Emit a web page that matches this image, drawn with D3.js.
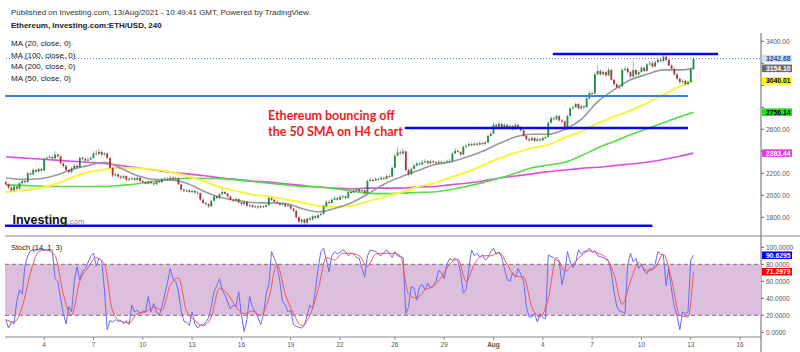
<!DOCTYPE html>
<html>
<head>
<meta charset="utf-8">
<script src="https://cdn.jsdelivr.net/npm/d3@7"></script>
<style>
  body { margin: 0; background: #fff; }
  svg { display: block; font-family: "Liberation Sans", Arial, sans-serif; }
</style>
</head>
<body>
<svg id="chart" width="800" height="352"></svg>
<script>
// ETH/USD 4h candles, 1 Jul -> 13 Aug 2021 (open = previous close)
const firstOpen = 2120;
const closes = [2100,2070,2045,2080,2060,2110,2130,2120,2200,2190,2230,2215,2240,2225,2330,2340,2350,2335,2370,2355,
  2290,2265,2230,2210,2245,2270,2255,2340,2330,2315,2325,2340,2380,2375,2395,2370,2380,2340,2250,2180,
  2190,2170,2160,2175,2140,2150,2155,2140,2160,2130,2120,2105,2125,2110,2100,2130,2120,2145,2150,2140,
  2160,2145,2155,2100,2050,2040,2045,2030,2040,2025,2020,1960,1930,1920,1900,1950,1990,1975,2010,2030,
  2015,1990,1960,1950,1965,1935,1920,1940,1905,1910,1895,1900,1890,1900,1895,1910,1975,1960,1940,1930,
  1915,1925,1900,1910,1880,1860,1800,1760,1780,1750,1790,1780,1810,1795,1820,1830,1900,1940,1930,1960,
  1975,1960,1985,1990,1975,2030,2025,2040,2055,2035,2045,2020,2130,2140,2135,2150,2145,2160,2150,2175,
  2170,2250,2360,2390,2380,2400,2230,2190,2240,2270,2290,2280,2300,2310,2290,2310,2300,2290,2305,2295,
  2300,2310,2310,2380,2405,2395,2370,2440,2450,2465,2455,2470,2460,2475,2465,2480,2540,2560,2640,2625,
  2650,2620,2640,2610,2630,2600,2640,2620,2590,2540,2510,2500,2520,2495,2510,2500,2520,2530,2660,2700,
  2690,2720,2680,2670,2600,2720,2790,2800,2830,2790,2810,2800,2880,2930,2925,3100,3130,3100,3120,3090,
  3140,3050,3010,2980,2990,3140,3150,3120,3080,3140,3100,3120,3160,3130,3190,3200,3170,3210,3230,3220,
  3260,3230,3180,3150,3100,3060,3030,3040,3010,3030,3150,3242.68];
const highs = [2135,2110,2080,2095,2090,2120,2145,2140,2215,2210,2245,2240,2250,2250,2345,2355,2370,2360,2400,2380,
  2360,2300,2275,2240,2260,2285,2280,2350,2355,2340,2340,2355,2400,2410,2420,2405,2395,2390,2345,2260,
  2205,2200,2185,2190,2180,2165,2170,2165,2175,2165,2140,2130,2140,2135,2120,2140,2140,2160,2170,2165,
  2180,2170,2170,2160,2105,2065,2060,2055,2055,2050,2040,2025,1970,1940,1930,1960,2000,2000,2025,2060,
  2040,2020,1995,1970,1980,1975,1945,1955,1945,1925,1920,1915,1910,1915,1910,1925,1990,1985,1965,1950,
  1940,1940,1930,1925,1915,1890,1865,1810,1790,1790,1800,1805,1825,1820,1835,1850,1915,1955,1960,1975,
  1995,1985,2000,2005,2000,2045,2050,2055,2075,2065,2060,2050,2145,2160,2155,2165,2160,2175,2170,2190,
  2190,2265,2375,2440,2410,2430,2405,2240,2255,2285,2305,2300,2320,2330,2320,2325,2320,2315,2320,2315,
  2315,2325,2330,2395,2430,2420,2400,2455,2470,2480,2480,2485,2480,2490,2485,2495,2555,2580,2660,2655,
  2670,2660,2655,2650,2645,2640,2655,2650,2630,2600,2550,2525,2535,2530,2525,2520,2535,2545,2675,2720,
  2715,2735,2730,2695,2680,2735,2805,2820,2845,2840,2825,2820,2895,2950,2945,3120,3180,3145,3140,3130,
  3160,3150,3060,3020,3005,3155,3170,3165,3130,3220,3150,3135,3175,3170,3205,3220,3215,3225,3250,3245,
  3280,3275,3245,3195,3160,3110,3070,3055,3050,3045,3165,3255];
const lows = [2085,2055,2030,2035,2050,2055,2100,2105,2115,2180,2185,2205,2210,2215,2220,2320,2335,2325,2330,2340,
  2280,2250,2215,2195,2200,2240,2240,2250,2320,2300,2305,2320,2335,2365,2370,2355,2360,2330,2240,2165,
  2170,2160,2145,2150,2125,2130,2140,2130,2135,2120,2105,2095,2100,2100,2085,2095,2110,2115,2135,2130,
  2135,2135,2140,2090,2040,2030,2030,2020,2020,2015,2010,1950,1920,1905,1885,1895,1945,1965,1970,2005,
  2005,1980,1950,1935,1940,1925,1905,1910,1890,1895,1885,1885,1875,1880,1885,1890,1905,1950,1930,1920,
  1905,1905,1890,1895,1870,1845,1790,1745,1740,1720,1740,1765,1770,1785,1790,1815,1825,1895,1920,1925,
  1955,1950,1955,1975,1965,1970,2015,2020,2035,2025,2030,2005,2015,2125,2125,2130,2135,2140,2140,2145,
  2160,2165,2245,2355,2370,2370,2215,2170,2185,2235,2260,2270,2275,2295,2280,2285,2290,2280,2285,2285,
  2285,2295,2300,2305,2375,2385,2360,2365,2435,2445,2445,2450,2450,2455,2455,2460,2475,2535,2555,2615,
  2620,2610,2610,2600,2605,2590,2595,2610,2580,2530,2500,2485,2490,2485,2485,2490,2495,2510,2525,2650,
  2680,2685,2670,2655,2585,2595,2715,2780,2795,2780,2780,2785,2795,2870,2910,2920,3090,3085,3090,3075,
  3085,3040,2995,2965,2960,2985,3130,3105,3065,3075,3085,3090,3110,3120,3125,3180,3160,3165,3200,3205,
  3210,3220,3170,3135,3085,3045,3010,3015,2995,3000,3025,3140];

// moving averages, read once a day (every 6th bar) plus the last bar
const maBars = d3.range(0, 247, 6).concat([251]);
const ma20 = [2157,2145,2150,2180,2235,2270,2300,2245,2180,2145,2140,2110,2040,1985,1955,1935,1930,1925,1880,1850,
  1880,1930,2010,2100,2165,2220,2275,2300,2345,2400,2470,2530,2555,2555,2600,2690,2850,2960,3050,3100,3140,3140,3154.10];
const ma50 = [2030,2045,2065,2100,2160,2210,2235,2250,2245,2235,2215,2175,2130,2075,2040,2005,1990,1965,1935,1905,
  1895,1905,1945,1985,2025,2075,2110,2160,2210,2270,2335,2385,2430,2460,2525,2580,2655,2715,2770,2840,2915,2990,3040.01];
const ma100 = [2095,2090,2085,2080,2080,2080,2080,2090,2105,2125,2145,2155,2155,2150,2140,2125,2110,2095,2080,2075,
  2060,2040,2020,2015,2020,2025,2030,2050,2080,2115,2155,2200,2250,2275,2300,2360,2430,2490,2550,2605,2660,2715,2756.14];
const ma200 = [2350,2340,2330,2320,2310,2300,2290,2270,2250,2230,2210,2195,2180,2160,2145,2130,2120,2105,2090,2075,
  2065,2060,2065,2065,2065,2075,2080,2095,2110,2130,2155,2175,2195,2215,2230,2245,2255,2270,2285,2300,2325,2355,2383.44];
const maNames = ["MA (20, close, 0)", "MA (100, close, 0)", "MA (200, close, 0)", "MA (50, close, 0)"];

// stochastic (14, 1, 3): %K each bar, %D every 3rd bar plus the last
const stochK = [15,5,12,10,36,50,45,78,90,96,97,97,97,98,97,97,96,95,63,60,
  40,22,10,30,24,60,77,62,72,75,82,90,93,78,87,84,50,3,14,12,
  15,13,14,10,14,9,32,24,26,22,25,24,42,24,34,24,20,30,45,58,
  75,63,60,48,25,13,12,8,24,10,5,9,8,12,17,30,48,55,63,50,
  44,35,28,32,30,48,20,1,15,42,30,24,18,9,20,45,56,95,87,79,
  60,36,32,24,26,9,7,6,5,8,20,32,28,50,75,95,99,85,71,90,
  95,92,94,97,95,90,93,92,88,87,75,65,90,97,96,95,92,90,94,97,
  93,88,95,90,89,88,22,30,54,52,38,54,56,50,58,52,55,60,73,70,
  63,80,87,85,87,84,70,46,50,75,97,90,93,88,91,85,88,95,99,92,
  94,88,75,62,60,70,65,75,68,60,30,18,18,22,12,22,17,16,91,89,
  88,85,83,56,70,95,83,76,82,97,92,95,96,99,94,96,90,89,88,86,
  84,70,48,30,25,24,22,80,93,83,87,75,80,72,69,75,74,80,95,92,
  91,55,75,50,30,20,3,24,22,24,85,90.6295];
const stochDBars = d3.range(0, 250, 3).concat([251]);
const stochD = [15,12,30,70,95,97,90,45,20,60,76,88,80,25,13,11,22,24,30,26,
  55,64,25,14,8,18,52,45,30,22,25,20,40,80,45,22,8,20,50,88,
  85,93,93,90,78,92,93,93,90,45,40,50,54,65,80,86,60,80,90,90,
  94,80,66,65,30,18,40,88,72,80,90,96,93,88,68,33,60,82,72,76,
  92,62,20,18,71.2979];

// trend lines drawn on the chart: price, first bar, last bar
const levelPrices = [3285, 2903, 2611, 1724];
const levelBars = [[200, 260], [0, 249], [146, 249], [0, 236]];

const priceTicks = [3400, 3200, 3000, 2800, 2600, 2400, 2200, 2000, 1800];
const stochTicks = [100, 80, 60, 40, 20, 0];
const dateBars = [14, 32, 50, 68, 86, 104, 122, 142, 160, 178, 196, 214, 232, 250, 268];
const dateLabels = ["4", "7", "10", "13", "16", "19", "22", "26", "29", "Aug", "4", "7", "10", "13", "16"];

const svg = d3.select("#chart");
const plotL = 5, plotR = 761;
const x = d3.scaleLinear().domain([0, 251]).range([5.8, 693.5]);
const y = d3.scaleLinear().domain([1800, 3400]).range([217.3, 41.3]);
const ys = d3.scaleLinear().domain([0, 100]).range([332.3, 247.3]);

const defs = svg.append("defs");
defs.append("clipPath").attr("id", "mainClip").append("rect")
  .attr("x", plotL).attr("y", 30).attr("width", plotR - plotL).attr("height", 205);
defs.append("clipPath").attr("id", "stochClip").append("rect")
  .attr("x", plotL).attr("y", 237).attr("width", plotR - plotL).attr("height", 100);

// header texts
svg.append("text").attr("x", 11).attr("y", 14.5).attr("font-size", 8).attr("fill", "#333")
  .text("Published on Investing.com, 13/Aug/2021 - 10:49:41 GMT, Powered by TradingView.");
svg.append("text").attr("x", 11).attr("y", 28).attr("font-size", 8).attr("font-weight", "bold").attr("fill", "#222")
  .text("Ethereum, Investing.com:ETH/USD, 240");

const main = svg.append("g").attr("clip-path", "url(#mainClip)");

// current price dotted line
main.append("line")
  .attr("x1", 0).attr("x2", plotR).attr("y1", y(closes[closes.length - 1])).attr("y2", y(closes[closes.length - 1]))
  .attr("stroke", "#4a6cf0").attr("stroke-dasharray", "1,2").attr("stroke-width", 1);

// moving averages
const maLine = d3.line().x(d => x(d[0])).y(d => y(d[1])).curve(d3.curveMonotoneX);
[[ma200, "#e04ee0", 1.6], [ma100, "#55dd44", 1.6], [ma50, "#f6f640", 2], [ma20, "#9a9a9a", 1.6]].forEach(([vals, col, w]) => {
  main.append("path").datum(d3.zip(maBars, vals)).attr("d", maLine)
    .attr("fill", "none").attr("stroke", col).attr("stroke-width", w);
});

// candles
const bars = closes.map((c, i) => ({ i, o: i ? closes[i - 1] : firstOpen, c, h: highs[i], l: lows[i] }));
const candle = main.append("g").selectAll("g").data(bars).join("g");
candle.append("line")
  .attr("x1", d => x(d.i)).attr("x2", d => x(d.i))
  .attr("y1", d => y(Math.max(d.h, d.o, d.c))).attr("y2", d => y(Math.min(d.l, d.o, d.c)))
  .attr("stroke", d => d.c >= d.o ? "#7fae8c" : "#c08a8a").attr("stroke-width", 0.8);
candle.append("rect")
  .attr("x", d => x(d.i) - 0.9).attr("width", 1.8)
  .attr("y", d => y(Math.max(d.o, d.c)))
  .attr("height", d => Math.max(1, y(Math.min(d.o, d.c)) - y(Math.max(d.o, d.c))))
  .attr("fill", d => d.c >= d.o ? "#1f8a45" : "#a8333a");

// horizontal levels
levelPrices.forEach((p, k) => {
  main.append("line")
    .attr("x1", x(levelBars[k][0]) - 1).attr("x2", x(levelBars[k][1]))
    .attr("y1", y(p)).attr("y2", y(p))
    .attr("stroke", k === 1 ? "#3a7ddc" : "#0a0ae8").attr("stroke-width", k === 1 ? 2 : 2.5);
});

// MA legend
maNames.forEach((t, k) => {
  svg.append("text").attr("x", 11).attr("y", 46 + k * 11.5).attr("font-size", 8).attr("fill", "#222").text(t);
});

// annotation
const note = svg.append("text").attr("font-family", "Lato, sans-serif").attr("font-size", 12.5)
  .attr("font-weight", "bold").attr("fill", "#ee1c24");
note.append("tspan").attr("x", 268).attr("y", 119.5).text("Ethereum bouncing off");
note.append("tspan").attr("x", 268).attr("y", 135.5).text("the 50 SMA on H4 chart");

// Investing logo
const logo = svg.append("text").attr("x", 12.5).attr("y", 223.5).attr("font-size", 12.5)
  .attr("font-weight", "bold").attr("fill", "#111");
logo.append("tspan").text("Invest\u0131ng");
logo.append("tspan").attr("font-size", 8).attr("font-weight", "normal").attr("fill", "#888").text(".com");
const iBox = logo.node().getExtentOfChar(6);
svg.append("circle").attr("cx", iBox.x + iBox.width / 2).attr("cy", 215.3).attr("r", 1.4).attr("fill", "#f39c12");

// pane separator and axes
svg.append("line").attr("x1", plotL).attr("x2", 800).attr("y1", 236).attr("y2", 236)
  .attr("stroke", "#8a8a8a").attr("stroke-width", 1.2);
svg.append("line").attr("x1", plotL).attr("x2", plotR).attr("y1", 337).attr("y2", 337)
  .attr("stroke", "#8a8a8a").attr("stroke-width", 1.2);
svg.append("line").attr("x1", plotR).attr("x2", plotR).attr("y1", 33).attr("y2", 352)
  .attr("stroke", "#666").attr("stroke-width", 1);

// stochastic pane
const st = svg.append("g").attr("clip-path", "url(#stochClip)");
st.append("rect").attr("x", plotL).attr("width", plotR - plotL)
  .attr("y", ys(80)).attr("height", ys(20) - ys(80)).attr("fill", "#dcbfdd");
[80, 20].forEach(v => {
  st.append("line").attr("x1", plotL).attr("x2", plotR).attr("y1", ys(v)).attr("y2", ys(v))
    .attr("stroke", "#7d6e7d").attr("stroke-dasharray", "4,3").attr("stroke-width", 1);
});
st.append("path").datum(stochK.map((v, i) => [i, v]))
  .attr("d", d3.line().x(d => x(d[0])).y(d => ys(d[1])))
  .attr("fill", "none").attr("stroke", "#6a6af5").attr("stroke-width", 1);
st.append("path").datum(d3.zip(stochDBars, stochD))
  .attr("d", d3.line().x(d => x(d[0])).y(d => ys(d[1])).curve(d3.curveMonotoneX))
  .attr("fill", "none").attr("stroke", "#f2555a").attr("stroke-width", 1);
svg.append("text").attr("x", 11).attr("y", 249.5).attr("font-size", 7.5).attr("fill", "#222").text("Stoch (14, 1, 3)");

// value tags on the axis
const tags = [
  [y(closes[closes.length - 1]), d3.format(".2f")(closes[closes.length - 1]), "#d3e1f5", "#2a4a8a"],
  [y(ma20[ma20.length - 1]), d3.format(".2f")(ma20[ma20.length - 1]), "#6b6b6b", "#fff"],
  [y(ma50[ma50.length - 1]), d3.format(".2f")(ma50[ma50.length - 1]), "#ffff00", "#000"],
  [y(ma100[ma100.length - 1]), d3.format(".2f")(ma100[ma100.length - 1]), "#22e022", "#000"],
  [y(ma200[ma200.length - 1]), d3.format(".2f")(ma200[ma200.length - 1]), "#e040e0", "#fff"],
  [ys(stochK[stochK.length - 1]), d3.format(".4f")(stochK[stochK.length - 1]), "#0000ff", "#fff"],
  [ys(stochD[stochD.length - 1]), d3.format(".4f")(stochD[stochD.length - 1]), "#ff0000", "#fff"]
];
// a tick label sitting under a tag is hidden by it, as on the original
const hidden = ty => tags.some(t => Math.abs(t[0] - ty) < 6.5);

// right price axis
const axisText = "#555";
priceTicks.forEach(p => {
  svg.append("line").attr("x1", plotR).attr("x2", plotR + 3).attr("y1", y(p)).attr("y2", y(p)).attr("stroke", "#666");
  if (hidden(y(p))) return;
  svg.append("text").attr("x", 766).attr("y", y(p) + 2.3).attr("font-size", 6.5).attr("fill", axisText)
    .text(d3.format(".2f")(p));
});
stochTicks.forEach(v => {
  svg.append("line").attr("x1", plotR).attr("x2", plotR + 3).attr("y1", ys(v)).attr("y2", ys(v)).attr("stroke", "#666");
  if (hidden(ys(v))) return;
  svg.append("text").attr("x", 766).attr("y", ys(v) + 2.3).attr("font-size", 6.5).attr("fill", axisText)
    .text(d3.format(".4f")(v));
});

tags.forEach(([ty, label, bg, fg]) => {
  svg.append("rect").attr("x", plotR + 1).attr("y", ty - 3.8).attr("width", 30).attr("height", 7.6).attr("fill", bg);
  svg.append("text").attr("x", 766).attr("y", ty + 2.4).attr("font-size", 6.8).attr("font-weight", "bold")
    .attr("fill", fg).text(label);
});

// time axis
dateBars.forEach((b, k) => {
  svg.append("line").attr("x1", x(b)).attr("x2", x(b)).attr("y1", 337).attr("y2", 340).attr("stroke", "#888");
  svg.append("text").attr("x", x(b)).attr("y", 346.5).attr("text-anchor", "middle").attr("font-size", 6.5)
    .attr("font-weight", dateLabels[k] === "Aug" ? "bold" : "normal").attr("fill", axisText).text(dateLabels[k]);
});
</script>
</body>
</html>
